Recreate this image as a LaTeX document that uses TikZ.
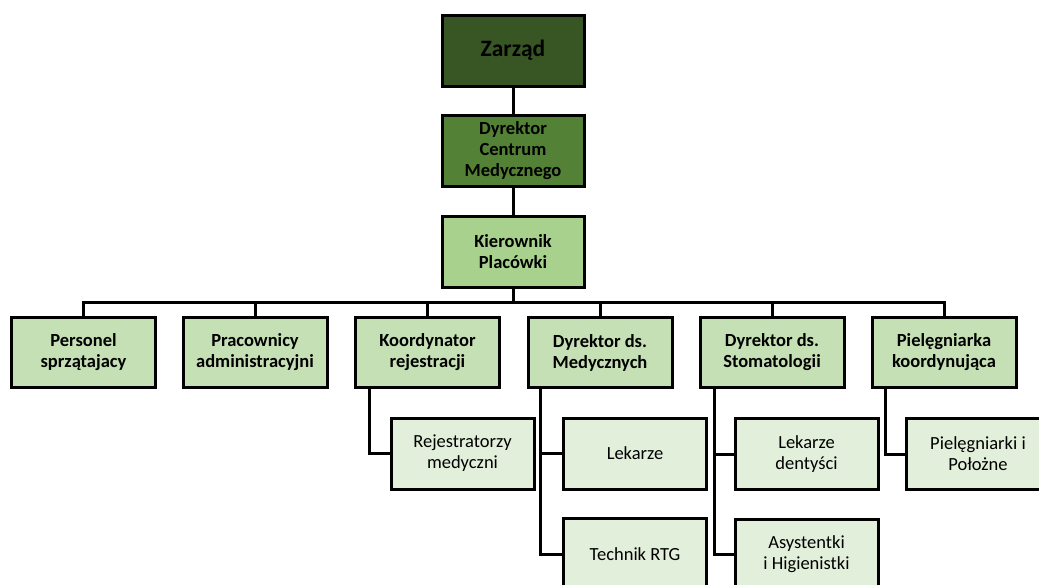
\documentclass[tikz,border=0pt]{standalone}
\usepackage{fontspec}
\setmainfont{Carlito}
\definecolor{cTop}{HTML}{375623}
\definecolor{cMid}{HTML}{538135}
\definecolor{cKier}{HTML}{A9D18E}
\definecolor{cL2}{HTML}{C5E0B4}
\definecolor{cL3}{HTML}{E2EFDA}
\tikzset{
  box/.style={draw=black, line width=3pt, rectangle, align=center, inner sep=0pt,
    font=\fontsize{18.5}{21}\selectfont},
  topbox/.style={box, fill=cTop, minimum width=142pt, minimum height=71pt, font=\fontsize{23.5}{27}\selectfont\bfseries},
  midbox/.style={box, fill=cMid, minimum width=142pt, minimum height=71pt, font=\fontsize{18.5}{21}\selectfont\bfseries},
  kierbox/.style={box, fill=cKier, minimum width=142pt, minimum height=71pt, font=\fontsize{18.5}{21}\selectfont\bfseries},
  lvtwo/.style={box, fill=cL2, minimum width=144pt, minimum height=70pt, font=\fontsize{18.5}{21}\selectfont\bfseries},
  lvthree/.style={box, fill=cL3, minimum width=143pt, minimum height=71pt},
  conn/.style={draw=black, line width=3pt}
}
\begin{document}
\begin{tikzpicture}[x=1pt,y=-1pt]
\useasboundingbox (0,0) rectangle (1039,584);
\clip (0,0) rectangle (1039,584);
\fill[white] (0,0) rectangle (1039,584);
% top chain
\node[topbox] (zar) at (513,50.5) {Zarząd};
\node[midbox] (dcm) at (513,151) {Dyrektor\\Centrum\\Medycznego};
\node[kierbox] (kier) at (513,251.5) {Kierownik\\Placówki};
% level 2
\node[lvtwo] (pers) at (83.5,352.5) {Personel\\sprzątajacy};
\node[lvtwo] (prac) at (255,352.5) {Pracownicy\\administracyjni};
\node[lvtwo] (koor) at (427.5,352.5) {Koordynator\\rejestracji};
\node[lvtwo] (dmed) at (600,352.5) {Dyrektor ds.\\Medycznych};
\node[lvtwo] (dsto) at (772,352.5) {Dyrektor ds.\\Stomatologii};
\node[lvtwo] (piel) at (944,352.5) {Pielęgniarka\\koordynująca};
% level 3
\node[lvthree] (rej) at (462.5,453.5) {Rejestratorzy\\medyczni};
\node[lvthree] (lek) at (635,453.5) {Lekarze};
\node[lvthree] (rtg) at (635,554) {Technik RTG};
\node[lvthree] (dent) at (806.5,454) {Lekarze\\dentyści};
\node[lvthree] (asys) at (806.5,554.5) {Asystentki\\i Higienistki};
\node[lvthree] (poloz) at (978,454) {Pielęgniarki i\\Położne};
% connectors top
\draw[conn] (zar.south) -- (dcm.north);
\draw[conn] (dcm.south) -- (kier.north);
\coordinate (bus) at (513,302);
\draw[conn] (kier.south) -- (bus);
\draw[conn] (pers.north) -- (pers.north |- bus) -- (piel.north |- bus) -- (piel.north);
\foreach \n in {prac,koor,dmed,dsto}{
  \draw[conn] (\n.north) -- (\n.north |- bus);
}
% level 3 connectors
\draw[conn] ([xshift=15pt]koor.south west) |- (rej.west);
\draw[conn] ([xshift=14pt]dmed.south west) |- (rtg.west);
\draw[conn] ([xshift=14pt]dmed.south west |- lek.west) -- (lek.west);
\draw[conn] ([xshift=16pt]dsto.south west) |- (asys.west);
\draw[conn] ([xshift=16pt]dsto.south west |- dent.west) -- (dent.west);
\draw[conn] ([xshift=15pt]piel.south west) |- (poloz.west);
\end{tikzpicture}
\end{document}
